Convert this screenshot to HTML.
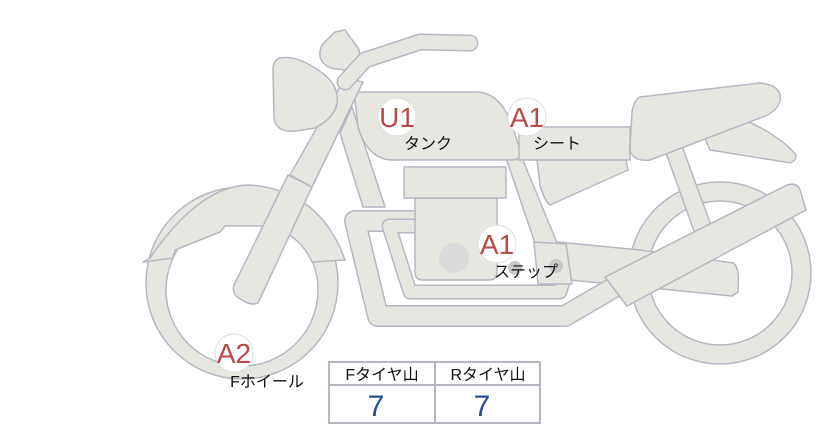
<!DOCTYPE html>
<html><head><meta charset="utf-8"><style>
html,body{margin:0;padding:0;background:#fff;}
svg{display:block;}
.s{fill:#e7e7e2;stroke:#b4b8c2;stroke-width:1.5;stroke-linejoin:round;}
.lbl{font-family:"Liberation Sans","Noto Sans CJK JP",sans-serif;}
</style></head><body>
<svg width="822" height="425" viewBox="0 0 822 425" xmlns="http://www.w3.org/2000/svg">
<circle cx="720" cy="273" r="91" class="s"/>
<circle cx="720" cy="273" r="72" fill="#fff" stroke="#b4b8c2" stroke-width="1.5"/>
<circle cx="242" cy="283" r="96" class="s"/>
<circle cx="242" cy="290" r="76" fill="#fff" stroke="#b4b8c2" stroke-width="1.5"/>
<path class="s" d="M143,262 L150,258 Q200,185 250,185 Q320,190 345,260 L312,262 Q300,235 270,226 L225,226 L220,232 L175,250 L173,258 Z"/>
<path class="s" d="M665,150 L682,146 L712,228 L695,234 Z"/>
<path class="s" d="M558,242 L640,250 L733,263 Q740,266 738,292 L732,296 L570,280 Z"/>
<path d="M418,221 L355,221 L378,316 L565,316 L618,285" fill="none" stroke="#b4b8c2" stroke-width="22" stroke-linejoin="round" stroke-linecap="round"/>
<path d="M418,221 L355,221 L378,316 L565,316 L618,285" fill="none" stroke="#e7e7e2" stroke-width="19" stroke-linejoin="round" stroke-linecap="round"/>
<path d="M418,226 L389,226 L410,292 L560,292 L564,278" fill="none" stroke="#b4b8c2" stroke-width="15" stroke-linejoin="round"/>
<path d="M418,226 L389,226 L410,292 L560,292 L564,278" fill="none" stroke="#e7e7e2" stroke-width="12" stroke-linejoin="round"/>
<path class="s" d="M605,277 L787,185 Q797,182 800,190 L806,210 L627,306 Z"/>
<path class="s" d="M340,133 L352,107 L385,207 L363,207 Z"/>
<path class="s" d="M506,158 L522,158 L560,250 L538,252 Z"/>
<path class="s" d="M534,242 L566,244 L572,284 L538,284 Z"/>
<rect class="s" x="404" y="167" width="102" height="31"/>
<path class="s" d="M415,198 L497,198 L497,272 Q497,280 489,280 L423,280 Q415,280 415,272 Z"/>
<circle cx="454" cy="258" r="15" fill="#dadada"/>
<circle cx="515" cy="268" r="7" fill="#c9c9c9"/>
<circle cx="556" cy="266" r="7" fill="#c9c9c9"/>
<path class="s" d="M354,92 L476,92 Q500,92 512,125 L520,150 Q522,160 512,160 L393,160 Q368,160 358,127 Z"/>
<rect class="s" x="519" y="127" width="111" height="33"/>
<path class="s" d="M537,160 L626,160 L628,170 L550,205 Q544,200 540,185 Z"/>
<path class="s" d="M700,128 L740,118 Q780,135 796,155 Q795,165 785,162 L710,150 Z"/>
<path class="s" d="M640,97 L760,83 Q782,85 780,100 Q778,112 760,118 L650,160 Q633,162 630,150 L632,112 Q634,100 640,97 Z"/>
<path class="s" d="M288,175 L312,187 L258,303 Q250,307 236,296 Q232,290 234,285 Z"/>
<path class="s" d="M290,175 L345,78 L363,82 L312,187 Z"/>
<path class="s" d="M280,58 Q295,55 315,68 Q335,80 337,95 Q340,115 315,128 L296,131 Q276,133 274,118 L273,70 Q273,60 280,58 Z"/>
<path class="s" d="M335,32 L345,30 L358,48 Q365,62 345,70 L330,68 Q315,60 322,45 Z"/>
<path d="M345,82 L365,60 L420,42 L470,43" fill="none" stroke="#b4b8c2" stroke-width="17" stroke-linejoin="round" stroke-linecap="round"/>
<path d="M345,82 L365,60 L420,42 L470,43" fill="none" stroke="#e7e7e2" stroke-width="14" stroke-linejoin="round" stroke-linecap="round"/>
<g class="lbl">
<circle cx="397" cy="117" r="19" fill="#fff" stroke="#ddd" stroke-width="1"/>
<text x="397" y="127" font-size="28" fill="#b94a48" text-anchor="middle">U1</text>
<text x="428" y="149" font-size="16" fill="#111" text-anchor="middle">タンク</text>
<circle cx="527" cy="117" r="19" fill="#fff" stroke="#ddd" stroke-width="1"/>
<text x="527" y="127" font-size="28" fill="#b94a48" text-anchor="middle">A1</text>
<text x="557" y="149" font-size="16" fill="#111" text-anchor="middle">シート</text>
<circle cx="497" cy="244" r="19" fill="#fff" stroke="#ddd" stroke-width="1"/>
<text x="497" y="254" font-size="28" fill="#b94a48" text-anchor="middle">A1</text>
<text x="526" y="277" font-size="16" fill="#111" text-anchor="middle">ステップ</text>
<circle cx="234" cy="353" r="19" fill="#fff" stroke="#ddd" stroke-width="1"/>
<text x="234" y="363" font-size="28" fill="#b94a48" text-anchor="middle">A2</text>
<text x="267" y="387" font-size="16" fill="#111" text-anchor="middle">Fホイール</text>
</g>
<rect x="329" y="362" width="211" height="61" fill="#fff" stroke="#b4b8c2" stroke-width="2"/>
<line x1="329" y1="385" x2="540" y2="385" stroke="#b4b8c2" stroke-width="2"/>
<line x1="435" y1="362" x2="435" y2="423" stroke="#b4b8c2" stroke-width="2"/>
<g class="lbl">
<text x="382" y="380" font-size="16" fill="#111" text-anchor="middle">Fタイヤ山</text>
<text x="488" y="380" font-size="16" fill="#111" text-anchor="middle">Rタイヤ山</text>
<text x="376" y="416" font-size="30" fill="#2b4a9a" text-anchor="middle">7</text>
<text x="482" y="416" font-size="30" fill="#2b4a9a" text-anchor="middle">7</text>
</g>
</svg>
</body></html>
